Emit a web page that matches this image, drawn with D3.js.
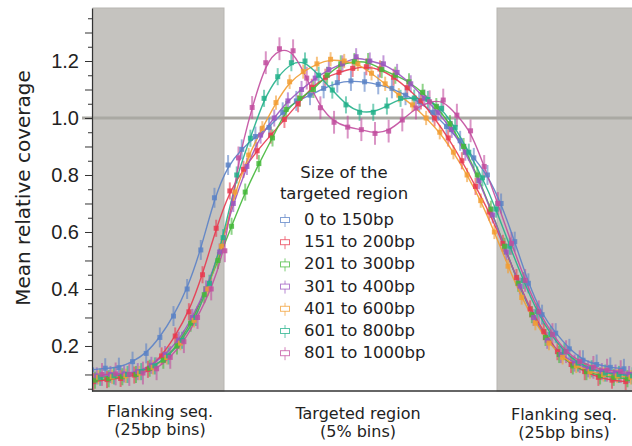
<!DOCTYPE html>
<html>
<head>
<meta charset="utf-8">
<script src="https://cdn.jsdelivr.net/npm/d3@7"></script>
<style>
  body { margin: 0; background: #fff; }
  svg { display: block; font-family: "DejaVu Sans", sans-serif; }
</style>
</head>
<body>
<svg id="chart" width="632" height="446"></svg>
<script>
// Bins: 10 flanking bins left (-10..-1), 20 target bins (0..19), 10 flanking bins right (20..29)
const binIndex = [-10, -9, -8, -7, -6, -5, -4, -3, -2, -1,
    0, 1, 2, 3, 4, 5, 6, 7, 8, 9, 10, 11, 12, 13, 14, 15, 16, 17, 18, 19,
    20, 21, 22, 23, 24, 25, 26, 27, 28, 29];

const seriesNames = ["0 to 150bp", "151 to 200bp", "201 to 300bp", "301 to 400bp",
    "401 to 600bp", "601 to 800bp", "801 to 1000bp"];
const seriesColors = ["#5b82c6", "#e8394f", "#44b83a", "#9b55c0", "#f29d32", "#22b08a", "#c24d9f"];

// Mean relative coverage per bin (left flank | target | right flank)
const cov0to150 = [0.116, 0.122, 0.124, 0.145, 0.174, 0.23, 0.305, 0.40, 0.537, 0.72,
    0.835, 0.89, 0.935, 0.967, 1.02, 1.06, 1.08, 1.104, 1.124, 1.13, 1.127, 1.118, 1.104, 1.08, 1.057, 1.02, 0.97, 0.92, 0.86, 0.80,
    0.70, 0.566, 0.42, 0.31, 0.245, 0.19, 0.15, 0.135, 0.125, 0.12];
const cov151to200 = [0.075, 0.082, 0.086, 0.098, 0.118, 0.165, 0.235, 0.32, 0.45, 0.613,
    0.744, 0.82, 0.885, 0.94, 0.995, 1.05, 1.108, 1.143, 1.16, 1.174, 1.18, 1.172, 1.143, 1.106, 1.06, 1.0, 0.93, 0.85, 0.76, 0.67,
    0.56, 0.44, 0.33, 0.25, 0.18, 0.135, 0.11, 0.09, 0.08, 0.075];
const cov201to300 = [0.08, 0.085, 0.092, 0.1, 0.122, 0.15, 0.2, 0.28, 0.38, 0.50,
    0.62, 0.74, 0.84, 0.93, 1.03, 1.069, 1.10, 1.15, 1.19, 1.198, 1.198, 1.17, 1.15, 1.127, 1.09, 1.04, 0.98, 0.90, 0.80, 0.68,
    0.55, 0.42, 0.31, 0.23, 0.17, 0.13, 0.11, 0.095, 0.09, 0.085];
const cov301to400 = [0.095, 0.1, 0.102, 0.11, 0.132, 0.17, 0.22, 0.30, 0.40, 0.53,
    0.70, 0.83, 0.94, 1.0, 1.06, 1.10, 1.14, 1.17, 1.19, 1.215, 1.20, 1.19, 1.16, 1.12, 1.07, 1.02, 0.96, 0.88, 0.78, 0.66,
    0.53, 0.41, 0.30, 0.22, 0.17, 0.14, 0.12, 0.11, 0.105, 0.10];
const cov401to600 = [0.09, 0.092, 0.095, 0.105, 0.125, 0.16, 0.21, 0.29, 0.40, 0.55,
    0.74, 0.87, 0.964, 1.054, 1.127, 1.163, 1.19, 1.206, 1.2, 1.19, 1.157, 1.12, 1.08, 1.046, 1.0, 0.95, 0.88, 0.80, 0.71, 0.60,
    0.48, 0.37, 0.28, 0.21, 0.16, 0.13, 0.11, 0.10, 0.095, 0.09];
const cov601to800 = [0.09, 0.095, 0.1, 0.11, 0.13, 0.165, 0.22, 0.30, 0.42, 0.58,
    0.80, 0.929, 1.069, 1.145, 1.194, 1.20, 1.15, 1.098, 1.046, 1.02, 1.02, 1.042, 1.069, 1.07, 1.065, 1.034, 0.967, 0.88, 0.79, 0.68,
    0.55, 0.43, 0.32, 0.24, 0.18, 0.14, 0.12, 0.105, 0.10, 0.095];
const cov801to1000 = [0.10, 0.102, 0.10, 0.105, 0.12, 0.16, 0.215, 0.30, 0.40, 0.534,
    0.86, 1.037, 1.194, 1.243, 1.236, 1.14, 1.036, 0.985, 0.968, 0.959, 0.946, 0.954, 0.993, 1.035, 1.057, 1.063, 1.01, 0.955, 0.83, 0.70,
    0.56, 0.43, 0.32, 0.24, 0.18, 0.145, 0.125, 0.115, 0.11, 0.105];

// Half length of the error bars per series
const errHalf = [0.035, 0.03, 0.03, 0.03, 0.025, 0.03, 0.04];

const yMajorTicks = [0.2, 0.4, 0.6, 0.8, 1.0, 1.2];
const yTenthTicks = [0.1, 0.3, 0.5, 0.7, 0.9, 1.1, 1.3];
const yMinorTicks = [0.05, 0.15, 0.25, 0.35, 0.45, 0.55, 0.65, 0.75, 0.85, 0.95, 1.05, 1.15, 1.25, 1.35];

const seriesValues = [cov0to150, cov151to200, cov201to300, cov301to400, cov401to600, cov601to800, cov801to1000];
const series = seriesNames.map((name, k) => ({
    name: name,
    color: seriesColors[k],
    err: errHalf[k],
    k: k,
    points: binIndex.map((b, i) => ({ bin: b, value: seriesValues[k][i] }))
}));

const svg = d3.select("#chart");

// Plot area
const plot = { left: 92, right: 632, top: 8, bottom: 391 };

// x in bin units, y in coverage
const xScale = d3.scaleLinear().domain([-10, 30]).range([87.5, 633.5]);
const yScale = d3.scaleLinear().domain([0.042, 1.386]).range([plot.bottom, plot.top]);

// dodge of each series inside a bin
const xPos = (bin, k) => xScale(bin + 0.3 + k * 0.127);

svg.append("defs").append("clipPath")
    .attr("id", "plotClip")
    .append("rect")
    .attr("x", plot.left)
    .attr("y", plot.top)
    .attr("width", plot.right - plot.left)
    .attr("height", plot.bottom - plot.top);

// Grey flanking regions
svg.append("rect")
    .attr("x", plot.left + 1)
    .attr("y", plot.top)
    .attr("width", xScale(0) - plot.left - 1)
    .attr("height", plot.bottom - plot.top)
    .attr("fill", "#c5c3bf")
    .attr("stroke", "#b7b5b1")
    .attr("stroke-width", 1);

svg.append("rect")
    .attr("x", xScale(20))
    .attr("y", plot.top)
    .attr("width", plot.right - xScale(20) + 2)
    .attr("height", plot.bottom - plot.top)
    .attr("fill", "#c5c3bf")
    .attr("stroke", "#b7b5b1")
    .attr("stroke-width", 1);

// Reference line at 1.0
svg.append("line")
    .attr("x1", 82)
    .attr("x2", plot.right)
    .attr("y1", yScale(1.0))
    .attr("y2", yScale(1.0))
    .attr("stroke", "#aaa9a3")
    .attr("stroke-width", 3);

const g = svg.append("g").attr("clip-path", "url(#plotClip)");

// Error bars
series.forEach(s => {
    g.append("g")
        .selectAll("line")
        .data(s.points)
        .enter().append("line")
        .attr("x1", d => xPos(d.bin, s.k))
        .attr("x2", d => xPos(d.bin, s.k))
        .attr("y1", d => yScale(d.value - s.err))
        .attr("y2", d => yScale(d.value + s.err))
        .attr("stroke", s.color)
        .attr("stroke-opacity", 0.6)
        .attr("stroke-width", 2);
});

// Smoothed lines
const line = d3.line()
    .x(d => d.x)
    .y(d => yScale(d.value))
    .curve(d3.curveBasis);

series.forEach(s => {
    g.append("path")
        .datum(s.points.map(p => ({ x: xPos(p.bin, s.k), value: p.value })))
        .attr("d", line)
        .attr("fill", "none")
        .attr("stroke", s.color)
        .attr("stroke-width", 1.4)
        .attr("stroke-opacity", 0.9);
});

// Square markers
series.forEach(s => {
    g.append("g")
        .selectAll("rect")
        .data(s.points)
        .enter().append("rect")
        .attr("x", d => xPos(d.bin, s.k) - 2.5)
        .attr("y", d => yScale(d.value) - 2.5)
        .attr("width", 5)
        .attr("height", 5)
        .attr("fill", s.color)
        .attr("fill-opacity", 0.85);
});

// Y axis (labels + 0.2 ticks)
const yAxis = svg.append("g")
    .attr("transform", `translate(${plot.left}, 0)`)
    .call(d3.axisLeft(yScale).tickValues(yMajorTicks).tickSize(7).tickSizeOuter(0).tickPadding(6)
        .tickFormat(d3.format(".1f")));

yAxis.selectAll("text")
    .attr("fill", "#222")
    .style("font-size", "20px");

// odd tenths and 0.05 ticks
svg.append("g")
    .attr("transform", `translate(${plot.left}, 0)`)
    .call(d3.axisLeft(yScale).tickValues(yTenthTicks).tickSize(7).tickFormat(""))
    .call(a => a.select(".domain").remove());

svg.append("g")
    .attr("transform", `translate(${plot.left}, 0)`)
    .call(d3.axisLeft(yScale).tickValues(yMinorTicks).tickSize(4).tickFormat(""))
    .call(a => a.select(".domain").remove());

svg.selectAll(".tick line").attr("stroke", "#333");
yAxis.select(".domain").attr("stroke", "#333").attr("stroke-width", 1.2);

// Bottom axis line
svg.append("line")
    .attr("x1", plot.left)
    .attr("x2", plot.right)
    .attr("y1", plot.bottom)
    .attr("y2", plot.bottom)
    .attr("stroke", "#333")
    .attr("stroke-width", 1.4);

// Y title
svg.append("text")
    .attr("transform", "translate(30, 188) rotate(-90)")
    .attr("text-anchor", "middle")
    .style("fill", "#222")
    .style("font-size", "20px")
    .text("Mean relative coverage");

// X region labels
const regionLabels = [
    { x: 160, y: 417, lines: ["Flanking seq.", "(25bp bins)"] },
    { x: 358, y: 419, lines: ["Targeted region", "(5% bins)"] },
    { x: 564, y: 420, lines: ["Flanking seq.", "(25bp bins)"] }
];

regionLabels.forEach(r => {
    r.lines.forEach((t, i) => {
        svg.append("text")
            .attr("x", r.x)
            .attr("y", r.y + i * 18)
            .attr("text-anchor", "middle")
            .style("fill", "#222")
            .style("font-size", "16px")
            .text(t);
    });
});

// Legend
const legendTitle = ["Size of the", "targeted region"];
legendTitle.forEach((t, i) => {
    svg.append("text")
        .attr("x", 344)
        .attr("y", 178 + i * 21)
        .attr("text-anchor", "middle")
        .style("fill", "#222")
        .style("font-size", "16.5px")
        .text(t);
});

const legend = svg.append("g")
    .selectAll("g")
    .data(series)
    .enter().append("g")
    .attr("transform", (d, i) => `translate(285, ${225 + i * 22.2})`);

legend.append("line")
    .attr("x1", 0).attr("x2", 0)
    .attr("y1", -11).attr("y2", 2)
    .attr("stroke", d => d.color)
    .attr("stroke-opacity", 0.7);

legend.append("rect")
    .attr("x", -4.5).attr("y", -7.5)
    .attr("width", 9).attr("height", 5)
    .attr("fill", "#fff")
    .attr("stroke", d => d.color)
    .attr("stroke-opacity", 0.75);

legend.append("text")
    .attr("x", 19)
    .attr("y", 0)
    .style("fill", "#222")
    .style("font-size", "16.5px")
    .text(d => d.name);
</script>
</body>
</html>
